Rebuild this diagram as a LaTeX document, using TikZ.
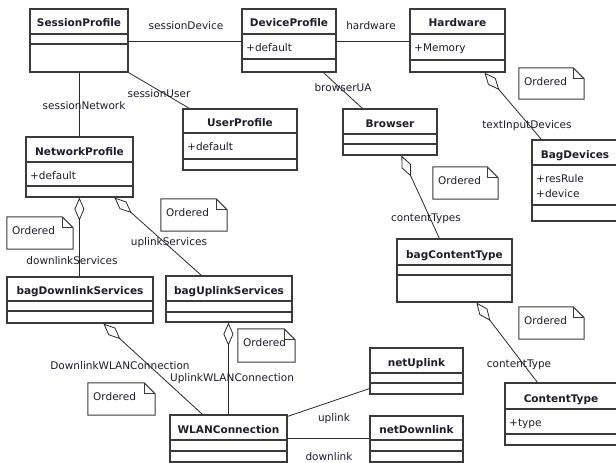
\documentclass[tikz,border=0pt]{standalone}
\usepackage{fontspec}
\setmainfont{DejaVu Sans}
\usetikzlibrary{arrows.meta,fit,calc}

\definecolor{boxcol}{HTML}{3A3A3A}
\definecolor{linecol}{HTML}{2A2A2A}
\definecolor{txtcol}{HTML}{1E1E2A}

% class box: name, left, top, right, bottom, title divider, attribute divider, title, first attribute
\newcommand\umlclass[9]{%
  \node[classbox, fit={(#2,#3)(#4,#5)}] (#1) {};
  \draw[boxline] (#2,#6) -- (#4,#6) (#2,#7) -- (#4,#7);
  \node[classtitle] (#1-title) at ({(#2+#4)/2},{#6-7}) {#8};
  \node[classattr] (#1-attr) at ({#2+4},{#6+17}) {#9};
}
% note with a folded corner: name, left, top, right, bottom
\newcommand\umlnote[5]{%
  \node[inner sep=0pt, fit={(#2,#3)(#4,#5)}] (#1) {};
  \draw[noteline] (#1.north west) -- ([xshift=-11pt]#1.north east)
     -- ([yshift=-11pt]#1.north east) -- (#1.south east) -- (#1.south west) -- cycle;
  \draw[noteline] ([xshift=-11pt]#1.north east) |- ([yshift=-11pt]#1.north east);
  \node[classattr] (#1-text) at ({#2+5},{#3+17}) {Ordered};
}

\begin{document}
\begin{tikzpicture}[x=1pt,y=-1pt,
  every node/.style={text=txtcol},
  classbox/.style={draw=boxcol, line width=1.2pt, inner sep=0pt, fill=white},
  boxline/.style={draw=boxcol, line width=1.2pt},
  classtitle/.style={anchor=base, inner sep=0pt, font=\fontsize{10.5}{12}\selectfont\bfseries},
  classattr/.style={anchor=base west, inner sep=0pt, font=\fontsize{10.5}{12}\selectfont},
  lbl/.style={inner sep=0pt, font=\fontsize{10.5}{12}\selectfont},
  noteline/.style={draw=boxcol, line width=1pt},
  conn/.style={draw=linecol, line width=0.8pt},
  agg/.style={conn, {Diamond[open, length=23pt, width=10pt, line width=0.8pt]}-}]

\fill[white] (0,0) rectangle (616,463);
\useasboundingbox (0,0) rectangle (616,463);
\clip (0,0) rectangle (616,463);

% classes
\umlclass{sp}{30}{9}{128}{72}{34}{44}{SessionProfile}{}
\umlclass{dp}{242}{9}{336}{72}{34}{59}{DeviceProfile}{+default}
\umlclass{hw}{410}{9}{505}{72}{34}{60}{Hardware}{+Memory}
\umlclass{up}{183}{109}{297}{170}{133}{159}{UserProfile}{+default}
\umlclass{br}{343}{109}{437}{155}{134}{144}{Browser}{}
\umlclass{np}{26}{137}{133}{197}{162}{186}{NetworkProfile}{+default}
\umlclass{bd}{532}{140}{618}{221}{165}{205}{BagDevices}{+resRule}
\node[classattr] (bd-attr2) at (536,197) {+device};
\umlclass{bct}{397}{239}{512}{302}{265}{275}{bagContentType}{}
\umlclass{bds}{7}{277}{153}{323}{301}{311}{bagDownlinkServices}{}
\umlclass{bus}{166}{276}{292}{322}{301}{312}{bagUplinkServices}{}
\umlclass{ct}{505}{383}{617}{445}{409}{434}{ContentType}{+type}
\umlclass{nu}{370}{348}{463}{394}{373}{383}{netUplink}{}
\umlclass{nd}{370}{416}{463}{462}{440}{451}{netDownlink}{}
\umlclass{wl}{170}{415}{287}{462}{440}{451}{WLANConnection}{}

% notes
\umlnote{n1}{519}{68}{584}{99}
\umlnote{n2}{433}{167}{498}{199}
\umlnote{n3}{519}{307}{584}{339}
\umlnote{n4}{7}{217}{73}{249}
\umlnote{n5}{161}{199}{227}{231}
\umlnote{n6}{238}{329}{295}{362}
\umlnote{n7}{88}{383}{155}{415}

% associations
\draw[conn] ($(sp.north east)+(0,33)$) -- ($(dp.north west)+(0,33)$);
\draw[conn] ($(dp.north east)+(0,33)$) -- ($(hw.north west)+(0,33)$);
\draw[conn] ($(sp.south west)+(50,0)$) -- ($(np.north west)+(54,0)$);
\draw[conn] (sp.south east) -- ($(up.north west)+(7,0)$);
\draw[conn] ($(dp.south west)+(82,0)$) -- ($(br.north west)+(20,0)$);
\draw[conn] ($(wl.north east)+(0,2)$) -- ($(nu.south west)+(0,-6)$);
\draw[conn] ($(wl.north east)+(0,24)$) -- ($(nd.north west)+(0,23)$);

% aggregations
\draw[agg] ($(hw.south west)+(75,0)$) -- ($(bd.north west)+(10,0)$);
\draw[agg] ($(br.south west)+(59,0)$) -- ($(bct.north west)+(43,0)$);
\draw[agg] ($(bct.south west)+(80,0)$) -- ($(ct.north west)+(33,0)$);
\draw[agg] ($(np.south west)+(54,0)$) -- ($(bds.north west)+(73,0)$);
\draw[agg] ($(np.south west)+(89,0)$) -- ($(bus.north west)+(36,0)$);
\draw[agg] ($(bds.south west)+(97,0)$) -- ($(wl.north west)+(33,0)$);
\draw[agg] ($(bus.south west)+(63,0)$) -- ($(wl.north west)+(59,0)$);

% role labels
\node[lbl] (l-sessionDevice) at (186,26) {sessionDevice};
\node[lbl] (l-hardware) at (371,26) {hardware};
\node[lbl] (l-sessionNetwork) at (84,106) {sessionNetwork};
\node[lbl] (l-sessionUser) at (159,94) {sessionUser};
\node[lbl] (l-browserUA) at (343,88) {browserUA};
\node[lbl] (l-textInput) at (527,126) {textInputDevices};
\node[lbl] (l-contentTypes) at (426,219) {contentTypes};
\node[lbl] (l-contentType) at (519,365) {contentType};
\node[lbl] (l-downlinkServices) at (72,261) {downlinkServices};
\node[lbl] (l-uplinkServices) at (169,243) {uplinkServices};
\node[lbl] (l-downWLAN) at (120,366) {DownlinkWLANConnection};
\node[lbl] (l-upWLAN) at (232,379) {UplinkWLANConnection};
\node[lbl] (l-uplink) at (334,419) {uplink};
\node[lbl] (l-downlink) at (329,457) {downlink};
\end{tikzpicture}
\end{document}
